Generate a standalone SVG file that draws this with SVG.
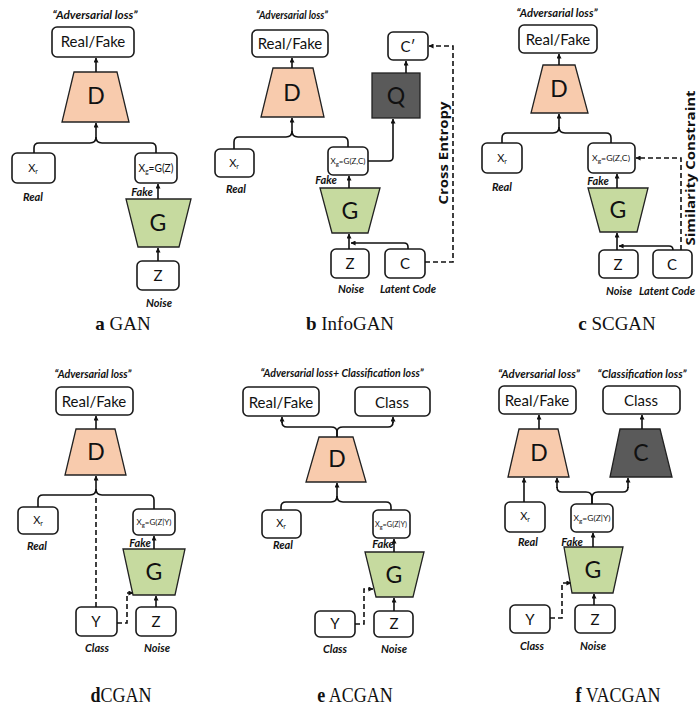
<svg xmlns="http://www.w3.org/2000/svg" width="699" height="709" viewBox="0 0 699 709">
<defs>
<marker id="ah" viewBox="0 0 6 6" refX="5.5" refY="3" markerWidth="5" markerHeight="5" orient="auto" markerUnits="userSpaceOnUse"><path d="M0,0 L6,3 L0,6 z" fill="#111"/></marker>
<style>
.box{fill:#fff;stroke:#1a1a1a;stroke-width:1.6}
.dn{fill:#F8CBAD;stroke:#222;stroke-width:1.3}
.gn{fill:#C6DA9F;stroke:#222;stroke-width:1.3}
.qn{fill:#5a5a5a;stroke:#222;stroke-width:1.3}
.ln{fill:none;stroke:#111;stroke-width:1.6}
.ar{marker-end:url(#ah)}
.ds{stroke-dasharray:5 3}
text{font-family:Lato,"Liberation Sans",sans-serif;fill:#111;text-anchor:middle}
.lb{font-size:15px}
.big{font-size:23px}
.sm{font-size:11px}
.xs{font-size:8px}
.it{font-size:11px;font-weight:bold;font-style:italic}
.rot{font-family:"Open Sans","DejaVu Sans",sans-serif;font-weight:bold;font-size:13px}
.cap{font-family:"Liberation Serif",serif;font-size:19px}
.capb{font-family:"Liberation Serif",serif;font-size:22px}
</style>
</defs>

<!-- ===== Panel a: GAN ===== -->
<g id="a-title"><text class="it" x="95" y="19" textLength="85" lengthAdjust="spacingAndGlyphs">“Adversarial loss”</text></g>
<g id="a-realfake"><rect class="box" x="52" y="27" width="82" height="30" rx="5"/><text class="lb" x="93" y="47">Real/Fake</text></g>
<g id="a-D"><polygon class="dn" points="74,72 117,72 129,122 62,122"/><text class="big" x="96" y="104">D</text></g>
<g id="a-xr"><rect class="box" x="12" y="153" width="43" height="30" rx="5"/><text class="sm" x="33" y="172">X<tspan font-size="7" dy="2">r</tspan></text><text class="it" x="33" y="201">Real</text></g>
<g id="a-xg"><rect class="box" x="135" y="153" width="42" height="30" rx="5"/><text class="sm" x="156" y="172" textLength="35" lengthAdjust="spacingAndGlyphs">X<tspan font-size="7" dy="2">g</tspan><tspan dy="-2">=G(Z)</tspan></text></g>
<g id="a-fake"><text class="it" x="142" y="196">Fake</text></g>
<g id="a-G"><polygon class="gn" points="126,199 191,199 179,247 138,247"/><text class="big" x="158" y="231">G</text></g>
<g id="a-Z"><rect class="box" x="137" y="261" width="42" height="29" rx="5"/><text class="lb" x="158" y="281">Z</text><text class="it" x="159" y="307">Noise</text></g>
<g id="a-caption"><text class="cap" x="123" y="330"><tspan font-weight="bold">a</tspan> GAN</text></g>

<!-- ===== Panel b: InfoGAN ===== -->
<g id="b-title"><text class="it" x="292" y="19" textLength="72" lengthAdjust="spacingAndGlyphs">“Adversarial loss”</text></g>
<g id="b-realfake"><rect class="box" x="252" y="30" width="76" height="27" rx="5"/><text class="lb" x="290" y="49">Real/Fake</text></g>
<g id="b-D"><polygon class="dn" points="273,68 313,68 324,117 261,117"/><text class="big" x="292" y="101">D</text></g>
<g id="b-xr"><rect class="box" x="215" y="149" width="39" height="28" rx="5"/><text class="sm" x="234" y="167">X<tspan font-size="7" dy="2">r</tspan></text><text class="it" x="236" y="193">Real</text></g>
<g id="b-xg"><rect class="box" x="328" y="147" width="40" height="28" rx="5"/><text class="xs" x="348" y="164" textLength="35" lengthAdjust="spacingAndGlyphs">X<tspan font-size="6" dy="2">g</tspan><tspan dy="-2">=G(Z,C)</tspan></text></g>
<g id="b-fake"><text class="it" x="326" y="184">Fake</text></g>
<g id="b-G"><polygon class="gn" points="320,188 380,188 368,233 332,233"/><text class="big" x="350" y="219">G</text></g>
<g id="b-Q"><rect class="qn" x="372" y="73" width="48" height="45"/><text class="big" x="396" y="104">Q</text></g>
<g id="b-Cp"><rect class="box" x="388" y="32" width="40" height="28" rx="5"/><text class="lb" x="408" y="52">C′</text></g>
<g id="b-Z"><rect class="box" x="331" y="249" width="38" height="29" rx="5"/><text class="lb" x="350" y="269">Z</text><text class="it" x="351" y="293">Noise</text></g>
<g id="b-C"><rect class="box" x="385" y="249" width="40" height="29" rx="5"/><text class="lb" x="405" y="269">C</text><text class="it" x="408" y="293">Latent Code</text></g>
<g id="b-ce"><text class="rot" transform="translate(448,153) rotate(-90)" textLength="103" lengthAdjust="spacingAndGlyphs">Cross Entropy</text></g>
<g id="b-caption"><text class="cap" x="350" y="330"><tspan font-weight="bold">b</tspan> InfoGAN</text></g>

<!-- ===== Panel c: SCGAN ===== -->
<g id="c-title"><text class="it" x="557" y="17" textLength="81" lengthAdjust="spacingAndGlyphs">“Adversarial loss”</text></g>
<g id="c-realfake"><rect class="box" x="519" y="25" width="78" height="28" rx="5"/><text class="lb" x="558" y="45">Real/Fake</text></g>
<g id="c-D"><polygon class="dn" points="543,65 575,65 588,113 531,113"/><text class="big" x="559" y="97">D</text></g>
<g id="c-xr"><rect class="box" x="482" y="143" width="40" height="30" rx="5"/><text class="sm" x="502" y="162">X<tspan font-size="7" dy="2">r</tspan></text><text class="it" x="502" y="191">Real</text></g>
<g id="c-xg"><rect class="box" x="588" y="143" width="47" height="30" rx="5"/><text class="xs" x="611" y="161" textLength="38" lengthAdjust="spacingAndGlyphs">X<tspan font-size="6" dy="2">g</tspan><tspan dy="-2">=G(Z,C)</tspan></text></g>
<g id="c-fake"><text class="it" x="598" y="185">Fake</text></g>
<g id="c-G"><polygon class="gn" points="588,188 648,188 637,232 600,232"/><text class="big" x="618" y="218">G</text></g>
<g id="c-Z"><rect class="box" x="599" y="250" width="39" height="28" rx="5"/><text class="lb" x="618" y="270">Z</text><text class="it" x="619" y="295">Noise</text></g>
<g id="c-C"><rect class="box" x="653" y="250" width="39" height="28" rx="5"/><text class="lb" x="672" y="270">C</text><text class="it" x="667" y="295" font-size="10px">Latent Code</text></g>
<g id="c-sc"><text class="rot" font-size="13px" transform="translate(695,168) rotate(-90)" textLength="155" lengthAdjust="spacingAndGlyphs">Similarity Constraint</text></g>
<g id="c-caption"><text class="cap" x="617" y="330"><tspan font-weight="bold">c</tspan> SCGAN</text></g>

<!-- ===== Panel d: CGAN ===== -->
<g id="d-title"><text class="it" x="93" y="378" textLength="77" lengthAdjust="spacingAndGlyphs">“Adversarial loss”</text></g>
<g id="d-realfake"><rect class="box" x="56" y="387" width="77" height="28" rx="5"/><text class="lb" x="94" y="407">Real/Fake</text></g>
<g id="d-D"><polygon class="dn" points="76,429 115,429 126,475 65,475"/><text class="big" x="96" y="460">D</text></g>
<g id="d-xr"><rect class="box" x="18" y="507" width="40" height="27" rx="5"/><text class="sm" x="38" y="524">X<tspan font-size="7" dy="2">r</tspan></text><text class="it" x="37" y="550">Real</text></g>
<g id="d-xg"><rect class="box" x="133" y="509" width="42" height="26" rx="5"/><text class="xs" x="154" y="525" textLength="35" lengthAdjust="spacingAndGlyphs">X<tspan font-size="6" dy="2">g</tspan><tspan dy="-2">=G(Z|Y)</tspan></text></g>
<g id="d-fake"><text class="it" x="140" y="547">Fake</text></g>
<g id="d-G"><polygon class="gn" points="123,549 185,549 175,595 133,595"/><text class="big" x="154" y="580">G</text></g>
<g id="d-Y"><rect class="box" x="76" y="607" width="41" height="29" rx="5"/><text class="lb" x="96" y="627">Y</text><text class="it" x="97" y="652">Class</text></g>
<g id="d-Z"><rect class="box" x="136" y="607" width="40" height="29" rx="5"/><text class="lb" x="156" y="627">Z</text><text class="it" x="157" y="652">Noise</text></g>
<g id="d-caption"><text class="capb" transform="translate(121,702) scale(0.82,1)"><tspan font-weight="bold">d</tspan>CGAN</text></g>

<!-- ===== Panel e: ACGAN ===== -->
<g id="e-title"><text class="it" x="342" y="377" textLength="163" lengthAdjust="spacingAndGlyphs">“Adversarial loss+ Classification loss”</text></g>
<g id="e-realfake"><rect class="box" x="243" y="387" width="76" height="29" rx="5"/><text class="lb" x="281" y="408">Real/Fake</text></g>
<g id="e-class"><rect class="box" x="355" y="387" width="75" height="29" rx="5"/><text class="lb" x="392" y="408">Class</text></g>
<g id="e-D"><polygon class="dn" points="319,437 353,437 366,482 306,482"/><text class="big" x="337" y="467">D</text></g>
<g id="e-xr"><rect class="box" x="262" y="510" width="39" height="28" rx="5"/><text class="sm" x="281" y="527">X<tspan font-size="7" dy="2">r</tspan></text><text class="it" x="283" y="549">Real</text></g>
<g id="e-xg"><rect class="box" x="373" y="510" width="37" height="28" rx="5"/><text class="xs" x="391" y="527" textLength="32" lengthAdjust="spacingAndGlyphs">X<tspan font-size="6" dy="2">g</tspan><tspan dy="-2">=G(Z|Y)</tspan></text></g>
<g id="e-fake"><text class="it" x="383" y="548">Fake</text></g>
<g id="e-G"><polygon class="gn" points="365,552 424,552 413,597 376,597"/><text class="big" x="394" y="583">G</text></g>
<g id="e-Y"><rect class="box" x="315" y="611" width="40" height="26" rx="5"/><text class="lb" x="335" y="629">Y</text><text class="it" x="335" y="653">Class</text></g>
<g id="e-Z"><rect class="box" x="374" y="611" width="39" height="26" rx="5"/><text class="lb" x="394" y="629">Z</text><text class="it" x="394" y="653">Noise</text></g>
<g id="e-caption"><text class="capb" transform="translate(355,702) scale(0.82,1)"><tspan font-weight="bold">e</tspan> ACGAN</text></g>

<!-- ===== Panel f: VACGAN ===== -->
<g id="f-title1"><text class="it" x="539" y="378" textLength="82" lengthAdjust="spacingAndGlyphs">“Adversarial loss”</text></g>
<g id="f-title2"><text class="it" x="642" y="378" textLength="89" lengthAdjust="spacingAndGlyphs">“Classification loss”</text></g>
<g id="f-realfake"><rect class="box" x="499" y="386" width="77" height="28" rx="5"/><text class="lb" x="537" y="406">Real/Fake</text></g>
<g id="f-class"><rect class="box" x="603" y="386" width="77" height="28" rx="5"/><text class="lb" x="641" y="406">Class</text></g>
<g id="f-D"><polygon class="dn" points="519,429 558,429 569,477 508,477"/><text class="big" x="539" y="461">D</text></g>
<g id="f-C"><polygon class="qn" points="620,429 660,429 672,477 610,477"/><text class="big" x="641" y="461">C</text></g>
<g id="f-xr"><rect class="box" x="505" y="502" width="40" height="30" rx="5"/><text class="sm" x="525" y="520">X<tspan font-size="7" dy="2">r</tspan></text><text class="it" x="528" y="546">Real</text></g>
<g id="f-xg"><rect class="box" x="571" y="504" width="42" height="28" rx="5"/><text class="xs" x="592" y="521" textLength="37" lengthAdjust="spacingAndGlyphs">X<tspan font-size="6" dy="2">g</tspan><tspan dy="-2">=G(Z|Y)</tspan></text></g>
<g id="f-fake"><text class="it" x="572" y="546">Fake</text></g>
<g id="f-G"><polygon class="gn" points="564,547 623,547 613,593 572,593"/><text class="big" x="593" y="578">G</text></g>
<g id="f-Y"><rect class="box" x="510" y="605" width="40" height="28" rx="5"/><text class="lb" x="530" y="625">Y</text><text class="it" x="532" y="650">Class</text></g>
<g id="f-Z"><rect class="box" x="575" y="605" width="40" height="28" rx="5"/><text class="lb" x="595" y="625">Z</text><text class="it" x="593" y="650">Noise</text></g>
<g id="f-caption"><text class="capb" transform="translate(618,702) scale(0.82,1)"><tspan font-weight="bold">f</tspan> VACGAN</text></g>

<!-- ===== Connectors ===== -->
<g id="connectors">
<!-- a -->
<path class="ln ar" d="M96,72 V58"/>
<path class="ln" d="M34,153 V148 Q34,143 39,143 H90 Q96,143 96,137"/>
<path class="ln" d="M156,153 V148 Q156,143 151,143 H102 Q96,143 96,137"/>
<path class="ln ar" d="M96,137 V123"/>
<path class="ln ar" d="M158,199 V184"/>
<path class="ln ar" d="M158,261 V248"/>
<!-- b -->
<path class="ln ar" d="M292,68 V58"/>
<path class="ln" d="M234,149 V142 Q234,137 239,137 H286 Q292,137 292,131"/>
<path class="ln" d="M348,147 V142 Q348,137 343,137 H298 Q292,137 292,131"/>
<path class="ln ar" d="M292,131 V118"/>
<path class="ln ar" d="M368,161 H389 Q393,161 393,157 V119"/>
<path class="ln ar" d="M406,73 V61"/>
<path class="ln ar" d="M349,188 V176"/>
<path class="ln ar" d="M349,249 V234"/>
<path class="ln ar" d="M408,249 V247 Q408,243 404,243 H351"/>
<path class="ln ds ar" d="M425,262 H453 V46 H429"/>
<!-- c -->
<path class="ln ar" d="M559,65 V54"/>
<path class="ln" d="M502,143 V138 Q502,133 507,133 H553 Q559,133 559,127"/>
<path class="ln" d="M611,143 V138 Q611,133 606,133 H565 Q559,133 559,127"/>
<path class="ln ar" d="M559,127 V114"/>
<path class="ln ar" d="M617,188 V174"/>
<path class="ln ar" d="M617,250 V233"/>
<path class="ln ar" d="M673,250 V250 Q673,246 669,246 H619"/>
<path class="ln ds ar" d="M681,250 V158 H636"/>
<!-- d -->
<path class="ln ar" d="M96,429 V416"/>
<path class="ln" d="M38,507 V500 Q38,495 43,495 H90 Q96,495 96,489"/>
<path class="ln" d="M154,509 V500 Q154,495 149,495 H102 Q96,495 96,489"/>
<path class="ln ar" d="M96,489 V476"/>
<path class="ln ds" d="M96,607 V497"/>
<path class="ln ar" d="M154,549 V536"/>
<path class="ln ar" d="M156,607 V596"/>
<path class="ln ds ar" d="M117,623 H127 V593 H133"/>
<!-- e -->
<path class="ln" d="M337,437 V432 Q337,427 331,427 H287 Q282,427 282,422"/>
<path class="ln ar" d="M282,423 V417"/>
<path class="ln" d="M337,437 V432 Q337,427 343,427 H388 Q393,427 393,422"/>
<path class="ln ar" d="M393,423 V417"/>
<path class="ln" d="M281,510 V507 Q281,502 286,502 H331 Q337,502 337,496"/>
<path class="ln" d="M391,510 V507 Q391,502 386,502 H343 Q337,502 337,496"/>
<path class="ln ar" d="M337,496 V483"/>
<path class="ln ar" d="M394,552 V539"/>
<path class="ln ar" d="M394,611 V598"/>
<path class="ln ds ar" d="M355,624 H364 V589 H373"/>
<!-- f -->
<path class="ln ar" d="M539,429 V415"/>
<path class="ln ar" d="M642,429 V415"/>
<path class="ln ar" d="M524,502 V478"/>
<path class="ln" d="M592,504 V498 Q592,492 586,492 H562 Q557,492 557,487"/>
<path class="ln ar" d="M557,488 V478"/>
<path class="ln" d="M592,504 V498 Q592,492 598,492 H623 Q628,492 628,487"/>
<path class="ln ar" d="M628,488 V478"/>
<path class="ln ar" d="M593,547 V533"/>
<path class="ln ar" d="M594,605 V594"/>
<path class="ln ds ar" d="M550,618 H562 V583 H571"/>
</g>
</svg>
